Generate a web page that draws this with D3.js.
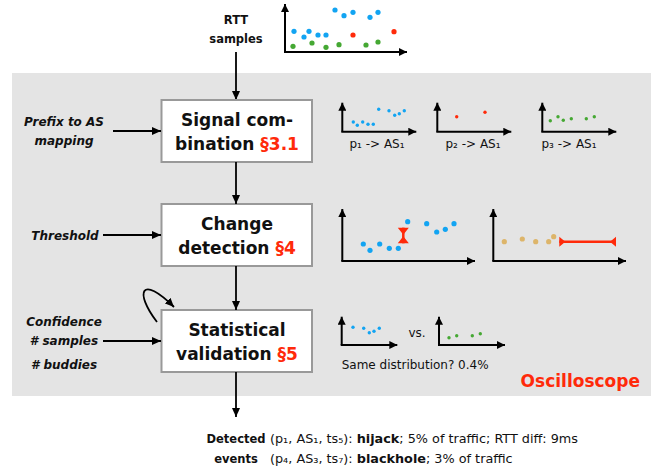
<!DOCTYPE html>
<html><head><meta charset="utf-8">
<script src="https://cdn.jsdelivr.net/npm/d3@7"></script>
<style>html,body{margin:0;padding:0;background:#fff;}svg{display:block;}</style>
</head><body>
<script>
// ---- data (time offset, RTT offset) ----
const topBlue  = [[9,20.7],[19,15],[24,20.7],[33,17],[41,17],[50,42],[59,36.3],[68,39.7],[85,34.7],[93,39.7]];
const topRed   = [[68,17],[109,20.3]];
const topGreen = [[8,5.7],[27,9],[41,4.7],[54,7.3],[81,7],[93,10]];

const p1Blue  = [[11,9.7],[15,6.4],[20.4,9.7],[25.7,7.4],[31,7.4],[36.4,22.4],[46.7,21],[52.4,16.4],[57,18],[62,21]];
const p2Red   = [[19.4,15],[47.7,19.4]];
const p3Green = [[8,11],[15.7,15],[21,11.4],[29,13],[44,13],[52,15]];
const miniLabels = ["p\u2081 -> AS\u2081","p\u2082 -> AS\u2081","p\u2083 -> AS\u2081"];

const changeBlue = [[21,17],[27.7,10.7],[37.4,17],[47,12.7],[56,12.7],[65.4,39.3],[84.4,37.3],[94.4,29],[103,31.7],[111.7,37.3]];
const changeBar  = [61, 17.7, 33.3];        // x, y0, y1
const thrTan     = [[11,19.3],[29,22],[42.4,19.3],[55.4,19.3],[60.4,24.3]];
const thrBar     = [66, 122.7, 19.3];      // x0, x1, y

const valBlue  = [[11.3,17.7],[22,16.7],[27.6,12.3],[32.3,13.7],[37.6,16.7]];
const valGreen = [[10,7.3],[17.7,9.3],[33.3,9.3],[41.3,11.3]];

const boxTitles = [["Signal com-","bination ","\u00a73.1"],["Change","detection ","\u00a74"],["Statistical","validation ","\u00a75"]];
const inputLabels = [["Prefix to AS","mapping"],["Threshold"],["Confidence","# samples","# buddies"]];
const events = [
  ["(p\u2081, AS\u2081, ts\u2085): ","hijack","; 5% of traffic; RTT diff: 9ms"],
  ["(p\u2084, AS\u2083, ts\u2087): ","blackhole","; 3% of traffic"]
];

const BLUE="#12a4f2", RED="#ff2a0a", GREEN="#45a833", TAN="#ddb56a";
const FONT="'DejaVu Sans', sans-serif";

const W=651,H=471;
const svg=d3.select("body").append("svg").attr("width",W).attr("height",H).style("font-family",FONT);
const defs=svg.append("defs");
function marker(id,len,wid){
  defs.append("marker").attr("id",id).attr("viewBox",`0 0 ${len} ${wid}`)
   .attr("refX",len).attr("refY",wid/2).attr("markerWidth",len).attr("markerHeight",wid)
   .attr("markerUnits","userSpaceOnUse").attr("orient","auto")
   .append("path").attr("d",`M0,0L${len},${wid/2}L0,${wid}Z`).attr("fill","#000");
}
marker("ah",9,8); marker("ax",8,8);

// background
svg.append("rect").attr("x",12).attr("y",73).attr("width",W-12).attr("height",323).attr("fill","#e4e4e4");

function arrow(x1,y1,x2,y2){
  svg.append("line").attr("x1",x1).attr("y1",y1).attr("x2",x2).attr("y2",y2)
   .attr("stroke","#000").attr("stroke-width",1.8).attr("marker-end","url(#ah)");
}

// mini plot helper
function miniPlot(ox,oy,w,h){
  const x=d3.scaleLinear().domain([0,w]).range([ox,ox+w]);
  const y=d3.scaleLinear().domain([0,h]).range([oy,oy-h]);
  const g=svg.append("g");
  g.append("line").attr("x1",ox).attr("y1",oy).attr("x2",ox).attr("y2",oy-h)
   .attr("stroke","#000").attr("stroke-width",2).attr("marker-end","url(#ax)");
  g.append("line").attr("x1",ox-1).attr("y1",oy).attr("x2",ox+w).attr("y2",oy)
   .attr("stroke","#000").attr("stroke-width",2).attr("marker-end","url(#ax)");
  return {g,x,y};
}
function dots(p,data,color,r){
  p.g.selectAll(null).data(data).enter().append("circle")
   .attr("cx",d=>p.x(d[0])).attr("cy",d=>p.y(d[1])).attr("r",r).attr("fill",color);
}

// top RTT samples plot
const pTop=miniPlot(285,52,122,48);
dots(pTop,topBlue,BLUE,2.6); dots(pTop,topRed,RED,2.6); dots(pTop,topGreen,GREEN,2.6);
svg.append("text").attr("x",236).attr("y",24).attr("text-anchor","middle").attr("font-weight","bold").attr("font-size",11.5).attr("fill","#111").text("RTT");
svg.append("text").attr("x",236).attr("y",43).attr("text-anchor","middle").attr("font-weight","bold").attr("font-size",11.5).attr("fill","#111").text("samples");
arrow(236,52,236,100);

// boxes
const boxes=[[100],[204],[310]];
boxes.forEach((b,i)=>{
  const y0=b[0];
  svg.append("rect").attr("x",161.5).attr("y",y0).attr("width",150.5).attr("height",62)
    .attr("fill","#fff").attr("stroke","#999").attr("stroke-width",2);
  svg.append("text").attr("x",237).attr("y",y0+26).attr("text-anchor","middle").attr("font-weight","bold")
    .attr("font-size",17).attr("fill","#111").text(boxTitles[i][0]);
  const t2=svg.append("text").attr("x",237).attr("y",y0+50).attr("text-anchor","middle").attr("font-weight","bold").attr("font-size",17).attr("fill","#111");
  t2.append("tspan").text(boxTitles[i][1]);
  t2.append("tspan").attr("fill",RED).text(boxTitles[i][2]);
});
arrow(236,162,236,204);
arrow(236,266,236,310);
arrow(236,372,236,417);

// input labels
const lab=(x,y,s)=>svg.append("text").attr("x",x).attr("y",y).attr("text-anchor","middle")
  .attr("font-weight","bold").attr("font-style","italic").attr("font-size",12).attr("fill","#111").text(s);
lab(64,126,inputLabels[0][0]); lab(64,145,inputLabels[0][1]);
arrow(113,131,161,131);
lab(65,240,inputLabels[1][0]);
arrow(103,235,161,235);
lab(64,326,inputLabels[2][0]); lab(64,345,inputLabels[2][1]); lab(64,369,inputLabels[2][2]);
arrow(103,341,161,341);
// self loop
svg.append("path").attr("d","M157,322 C134,292 141,274 174,307").attr("fill","none")
  .attr("stroke","#000").attr("stroke-width",1.8).attr("marker-end","url(#ah)");

// signal combination mini plots
const pA=miniPlot(342.3,131.7,74,29); dots(pA,p1Blue,BLUE,1.7);
const pB=miniPlot(437.3,131.7,74,29); dots(pB,p2Red,RED,1.7);
const pC=miniPlot(542.3,131.7,74,29); dots(pC,p3Green,GREEN,1.7);
[377,473,569].forEach((cx,i)=>svg.append("text").attr("x",cx).attr("y",147.5).attr("text-anchor","middle")
  .attr("font-size",12).attr("fill","#111").text(miniLabels[i]));

// change detection
const pD=miniPlot(342.3,261,132.7,52); dots(pD,changeBlue,BLUE,2.6);
{
  const x=pD.x(changeBar[0]), y0=pD.y(changeBar[2]), y1=pD.y(changeBar[1]);
  svg.append("line").attr("x1",x).attr("x2",x).attr("y1",y0).attr("y2",y1).attr("stroke",RED).attr("stroke-width",2.5);
  svg.append("path").attr("fill",RED).attr("d",`M${x-5.5},${y0}L${x+5.5},${y0}L${x},${y0+7}Z M${x-5.5},${y1}L${x+5.5},${y1}L${x},${y1-7}Z`);
}
const pE=miniPlot(493.3,261,132.7,52); dots(pE,thrTan,TAN,2.6);
{
  const x0=pE.x(thrBar[0]), x1=pE.x(thrBar[1]), y=pE.y(thrBar[2]);
  svg.append("line").attr("x1",x0).attr("x2",x1).attr("y1",y).attr("y2",y).attr("stroke",RED).attr("stroke-width",2.5);
  svg.append("path").attr("fill",RED).attr("d",`M${x0},${y-5}L${x0},${y+5}L${x0+6},${y}Z M${x1},${y-5}L${x1},${y+5}L${x1-6},${y}Z`);
}

// statistical validation
const pF=miniPlot(341.7,345,55.6,28.3); dots(pF,valBlue,BLUE,1.7);
const pG=miniPlot(439,345,66,28.3); dots(pG,valGreen,GREEN,1.7);
svg.append("text").attr("x",417).attr("y",337).attr("text-anchor","middle").attr("font-size",12).attr("fill","#111").text("vs.");
svg.append("text").attr("x",341.7).attr("y",368.5).attr("font-size",12).attr("fill","#111").text("Same distribution? 0.4%");

svg.append("text").attr("x",640).attr("y",387).attr("text-anchor","end").attr("font-weight","bold").attr("font-size",17).attr("fill",RED).text("Oscilloscope");

// detected events
svg.append("text").attr("x",236).attr("y",443).attr("text-anchor","middle").attr("font-weight","bold").attr("font-size",11.5).attr("fill","#111").text("Detected");
svg.append("text").attr("x",236).attr("y",463).attr("text-anchor","middle").attr("font-weight","bold").attr("font-size",11.5).attr("fill","#111").text("events");
events.forEach((e,i)=>{
  const t=svg.append("text").attr("x",270).attr("y",443+i*20).attr("font-size",12.8).attr("fill","#111");
  t.append("tspan").text(e[0]);
  t.append("tspan").attr("font-weight","bold").text(e[1]);
  t.append("tspan").text(e[2]);
});
</script>
</body></html>
